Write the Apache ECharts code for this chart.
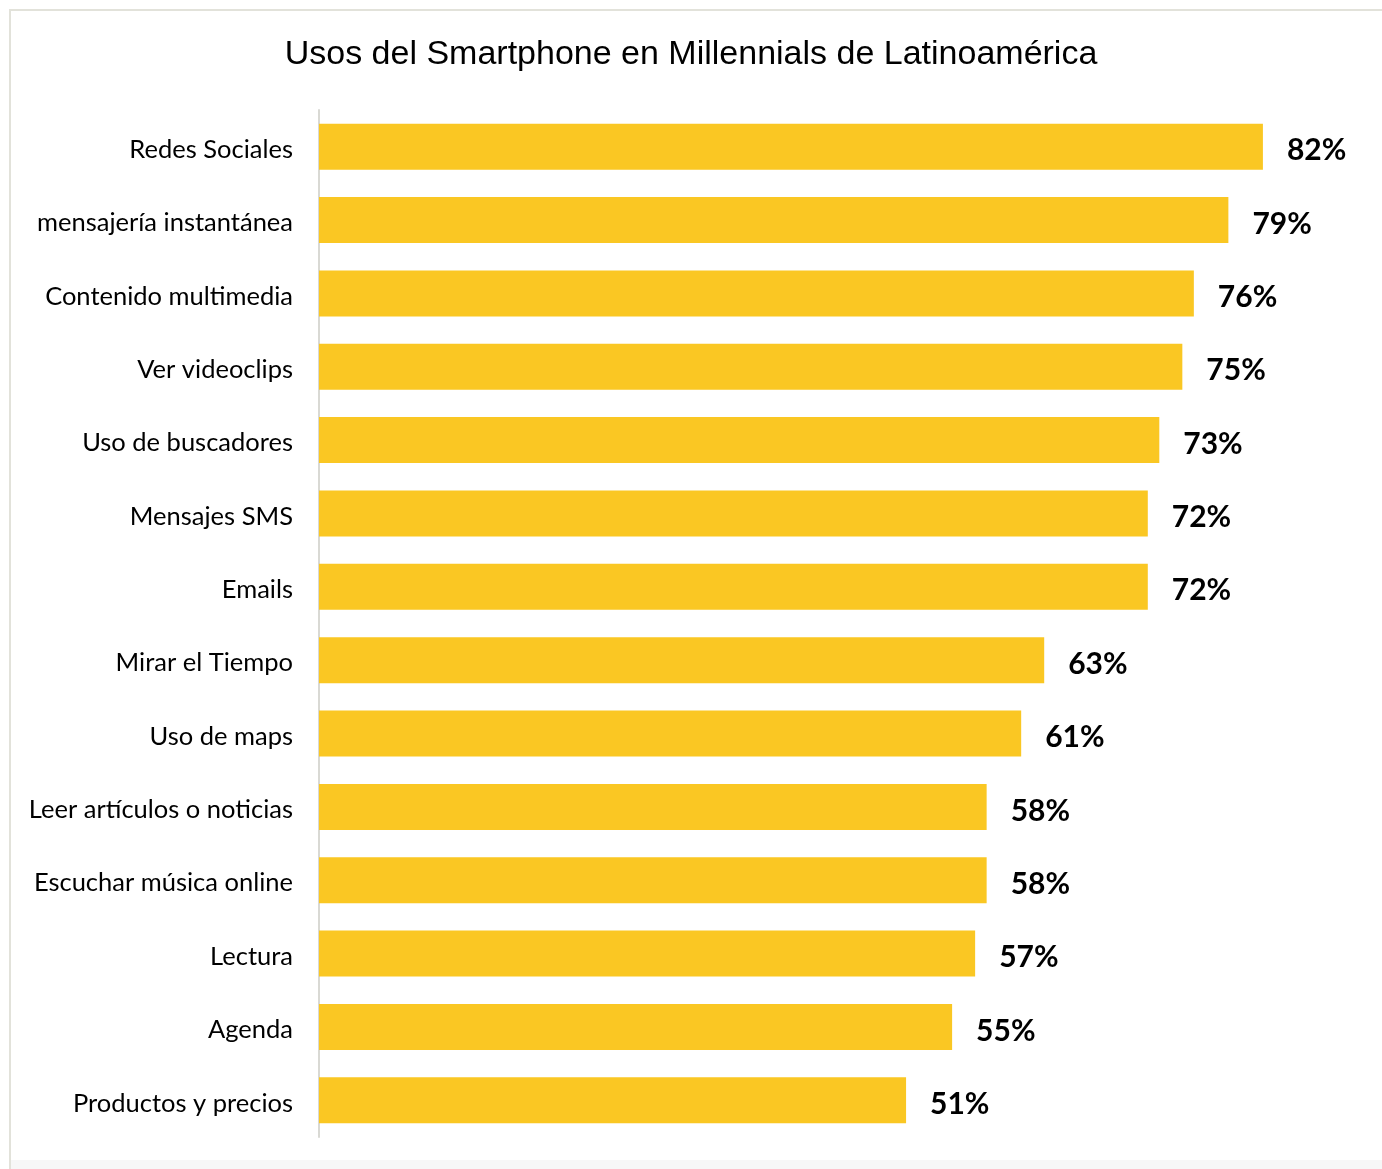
<!DOCTYPE html>
<html>
<head>
<meta charset="utf-8">
<script src="https://cdn.jsdelivr.net/npm/echarts@6/dist/echarts.min.js"></script>
<style>
html,body{margin:0;padding:0;background:#fff;}
#chart{width:1382px;height:1169px;}
</style>
</head>
<body>
<div id="chart"></div>
<script>
var titleText = 'Usos del Smartphone en Millennials de Latinoamérica';
var categories = ['Redes Sociales','mensajería instantánea','Contenido multimedia','Ver videoclips','Uso de buscadores','Mensajes SMS','Emails','Mirar el Tiempo','Uso de maps','Leer artículos o noticias','Escuchar música online','Lectura','Agenda','Productos y precios'];
var values = [82,79,76,75,73,72,72,63,61,58,58,57,55,51];

var chart = echarts.init(document.getElementById('chart'));
chart.setOption({
  backgroundColor:'#fff',
  animation:false,
  graphic:[
    {type:'rect',shape:{x:10,y:10,width:1400,height:1200},style:{fill:'none',stroke:'#e2e2da',lineWidth:2},z:-1},
    {type:'rect',shape:{x:11,y:1160,width:1400,height:10},style:{fill:'#f7f7f7'},z:-1}
  ],
  title:{text:titleText,left:'center',top:33,textStyle:{fontFamily:'Liberation Sans',fontSize:34,fontWeight:'normal',color:'#000'}},
  grid:{left:319,top:110,right:27,bottom:32,containLabel:false},
  xAxis:{type:'value',min:0,max:90,show:false},
  yAxis:{type:'category',data:categories,inverse:true,
    axisLine:{show:true,lineStyle:{color:'#d9d9d4',width:2}},
    axisTick:{show:false},
    axisLabel:{margin:26,color:'#000',
      formatter:function(v){return '{a|'+v+'}';},
      rich:{a:{fontFamily:'Lato',fontSize:25.5,color:'#000',padding:[6,0,0,0]}}}},
  series:[{type:'bar',data:values,barWidth:46,
    itemStyle:{color:'#FAC723'},
    label:{show:true,position:'right',distance:24,offset:[0,4],formatter:'{c}%',fontFamily:'Lato',fontWeight:'bold',fontSize:30,color:'#000'}}]
});
</script>
</body>
</html>
